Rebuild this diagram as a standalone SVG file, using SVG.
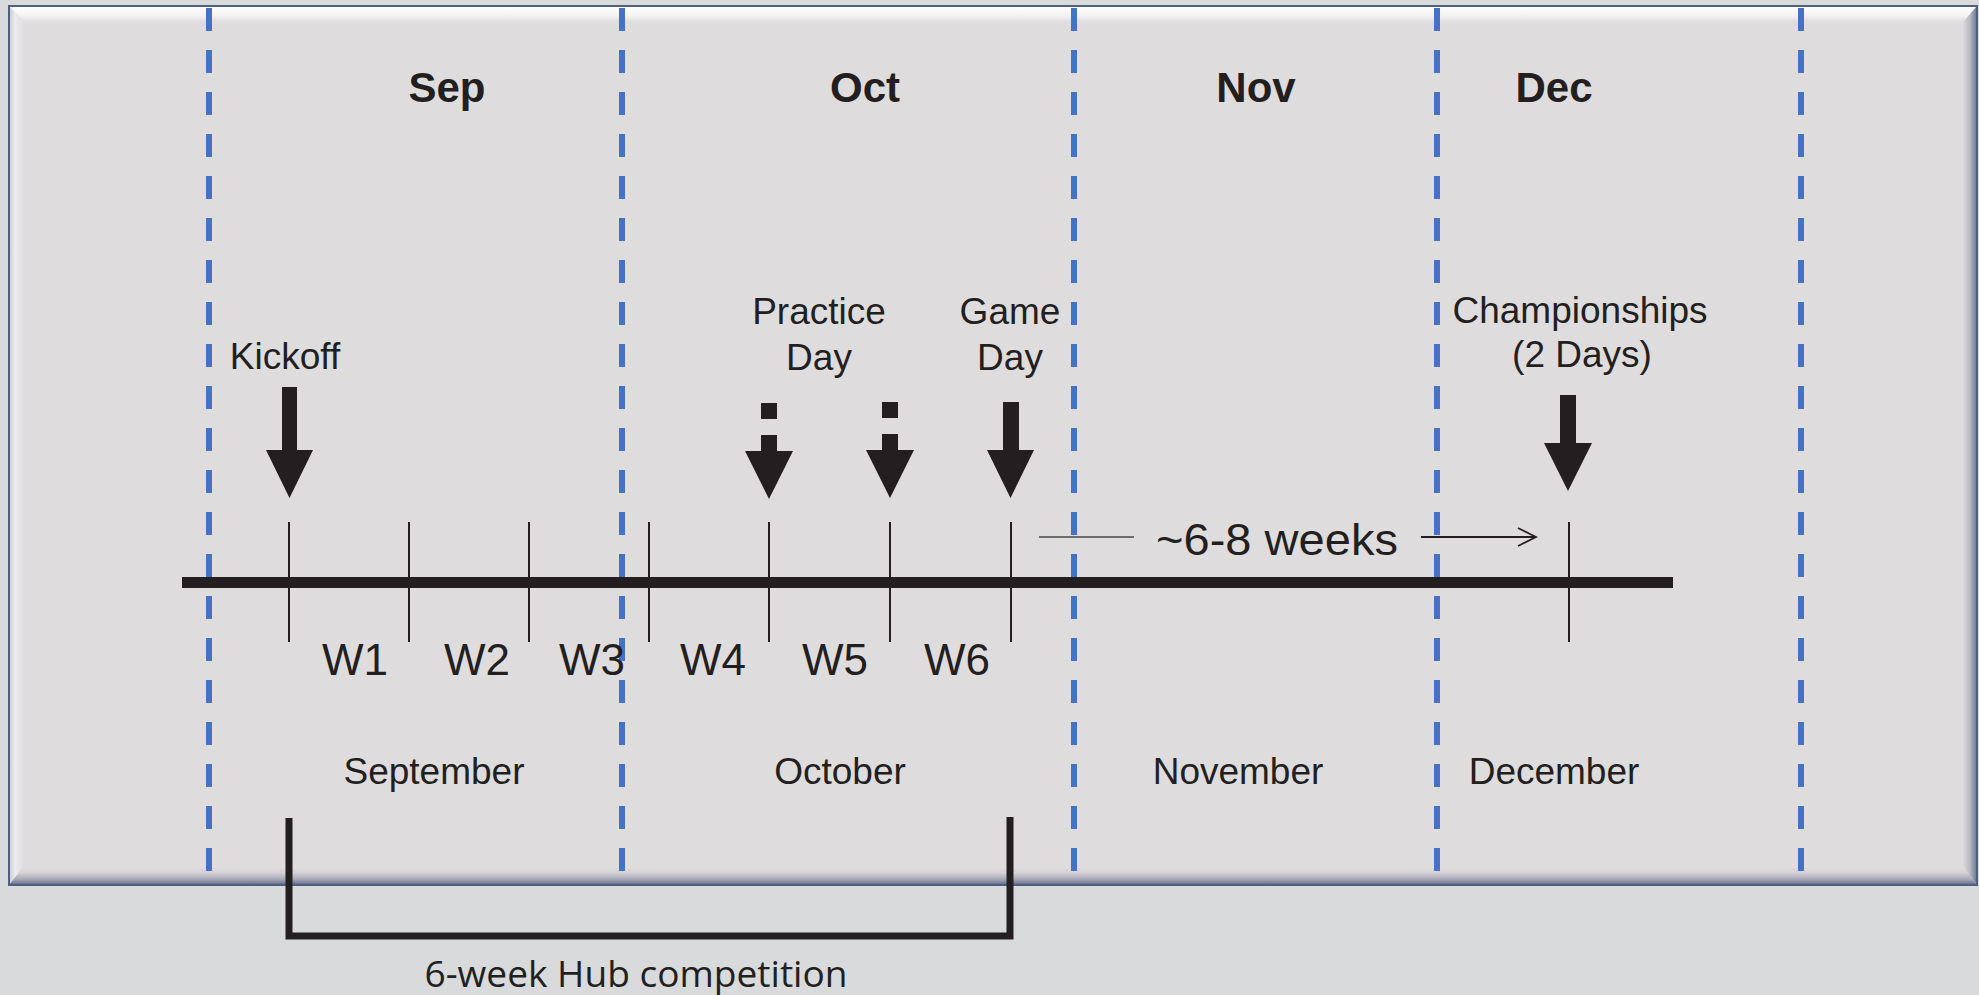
<svg xmlns="http://www.w3.org/2000/svg" width="1979" height="995" viewBox="0 0 1979 995">
<defs>
<style>
.t{font-family:"Liberation Sans",Arial,sans-serif;fill:#231f20;text-anchor:middle}
.hdr{font-size:42px;font-weight:bold}
.lbl{font-size:37px}
.wk{font-size:44px}
.tick{stroke:#231f20;stroke-width:2}
.dash{stroke:#4472c4;stroke-width:6;stroke-dasharray:23 19}
.blk{fill:#231f20}
</style>
<linearGradient id="gTop" x1="0" y1="0" x2="0" y2="1">
<stop offset="0" stop-color="#ffffff"/><stop offset="0.6" stop-color="#f4f3f3"/><stop offset="1" stop-color="#dfdcdd"/>
</linearGradient>
<linearGradient id="gLeft" x1="0" y1="0" x2="1" y2="0">
<stop offset="0" stop-color="#c9c9cf"/><stop offset="0.4" stop-color="#ececee"/><stop offset="1" stop-color="#dfdcdd"/>
</linearGradient>
<linearGradient id="gBot" x1="0" y1="0" x2="0" y2="1">
<stop offset="0" stop-color="#e1e0dc"/><stop offset="0.35" stop-color="#d6d2d8"/><stop offset="0.7" stop-color="#a8a8b4"/><stop offset="1" stop-color="#5a6888"/>
</linearGradient>
<linearGradient id="gRight" x1="0" y1="0" x2="1" y2="0">
<stop offset="0" stop-color="#dcdadc"/><stop offset="0.5" stop-color="#b8b8c0"/><stop offset="1" stop-color="#6a7490"/>
</linearGradient>
</defs>
<rect x="0" y="0" width="1979" height="995" fill="#d9dadc"/>
<g id="panel">
<rect x="9" y="6" width="1968" height="879" fill="#dfdcdd"/>
<polygon points="9,6 1977,6 1963,22 24,22" fill="url(#gTop)"/>
<polygon points="9,6 24,22 24,866 9,885" fill="url(#gLeft)"/>
<polygon points="24,866 1963,866 1977,885 9,885" fill="url(#gBot)"/>
<polygon points="1963,22 1977,6 1977,885 1963,866" fill="url(#gRight)"/>
<rect x="9" y="6" width="1968" height="879" fill="none" stroke="#4f5f80" stroke-width="2"/>
</g>
<g id="month-dividers">
<line class="dash" x1="209" y1="8" x2="209" y2="872"/>
<line class="dash" x1="622" y1="8" x2="622" y2="872"/>
<line class="dash" x1="1074" y1="8" x2="1074" y2="872"/>
<line class="dash" x1="1437" y1="8" x2="1437" y2="872"/>
<line class="dash" x1="1801" y1="8" x2="1801" y2="872"/>
</g>
<g id="headers">
<text class="t hdr" x="447" y="102">Sep</text>
<text class="t hdr" x="865" y="102">Oct</text>
<text class="t hdr" x="1256" y="102">Nov</text>
<text class="t hdr" x="1554" y="102">Dec</text>
</g>
<g id="connectors">
<line x1="182" y1="582.5" x2="1673" y2="582.5" stroke="#231f20" stroke-width="11"/>
<line class="tick" x1="289" y1="522" x2="289" y2="642"/>
<line class="tick" x1="409" y1="522" x2="409" y2="642"/>
<line class="tick" x1="529" y1="522" x2="529" y2="642"/>
<line class="tick" x1="649" y1="522" x2="649" y2="642"/>
<line class="tick" x1="769" y1="522" x2="769" y2="642"/>
<line class="tick" x1="890" y1="522" x2="890" y2="642"/>
<line class="tick" x1="1011" y1="522" x2="1011" y2="642"/>
<line class="tick" x1="1569" y1="522" x2="1569" y2="642"/>
<line x1="1039" y1="537" x2="1134" y2="537" stroke="#4a4a4a" stroke-width="1.6"/>
<line x1="1421" y1="537" x2="1535" y2="537" stroke="#231f20" stroke-width="1.8"/>
<polyline points="1518,528 1536,537 1518,546" fill="none" stroke="#231f20" stroke-width="1.8"/>
<polyline points="289,818 289,936 1010,936 1010,817" fill="none" stroke="#231f20" stroke-width="7"/>
</g>
<g id="kickoff">
<text class="t lbl" x="285" y="369">Kickoff</text>
<rect class="blk" x="282" y="387" width="15" height="64"/>
<polygon class="blk" points="266,450 313,450 289.5,498"/>
</g>
<g id="practice-day">
<text class="t lbl" x="819" y="324">Practice</text>
<text class="t lbl" x="819" y="370">Day</text>
<rect class="blk" x="761" y="403" width="16" height="16"/>
<rect class="blk" x="761" y="435" width="16" height="17"/>
<polygon class="blk" points="745,451 793,451 769,499"/>
<rect class="blk" x="882" y="402" width="16" height="16"/>
<rect class="blk" x="882" y="434" width="16" height="17"/>
<polygon class="blk" points="866,450 914,450 890,498"/>
</g>
<g id="game-day">
<text class="t lbl" x="1010" y="324">Game</text>
<text class="t lbl" x="1010" y="370">Day</text>
<rect class="blk" x="1003" y="402" width="16" height="49"/>
<polygon class="blk" points="987,450 1034,450 1010.5,498"/>
</g>
<g id="championships">
<text class="t lbl" x="1580" y="323">Championships</text>
<text class="t lbl" x="1582" y="367">(2 Days)</text>
<rect class="blk" x="1560" y="395" width="16" height="49"/>
<polygon class="blk" points="1544,443 1592,443 1568,491"/>
</g>
<g id="duration">
<text class="t" x="1277" y="555" font-size="44" textLength="242" lengthAdjust="spacingAndGlyphs">~6-8 weeks</text>
</g>
<g id="weeks">
<text class="t wk" x="355" y="675">W1</text>
<text class="t wk" x="477" y="675">W2</text>
<text class="t wk" x="592" y="675">W3</text>
<text class="t wk" x="713" y="675">W4</text>
<text class="t wk" x="835" y="675">W5</text>
<text class="t wk" x="957" y="675">W6</text>
</g>
<g id="months">
<text class="t lbl" x="434" y="784">September</text>
<text class="t lbl" x="840" y="784">October</text>
<text class="t lbl" x="1238" y="784">November</text>
<text class="t lbl" x="1554" y="784">December</text>
</g>
<g id="hub-competition">
<text x="636" y="987" font-family="'Open Sans','Noto Sans',sans-serif" font-size="37" fill="#231f20" text-anchor="middle" textLength="423" lengthAdjust="spacingAndGlyphs">6-week Hub competition</text>
</g>
</svg>
